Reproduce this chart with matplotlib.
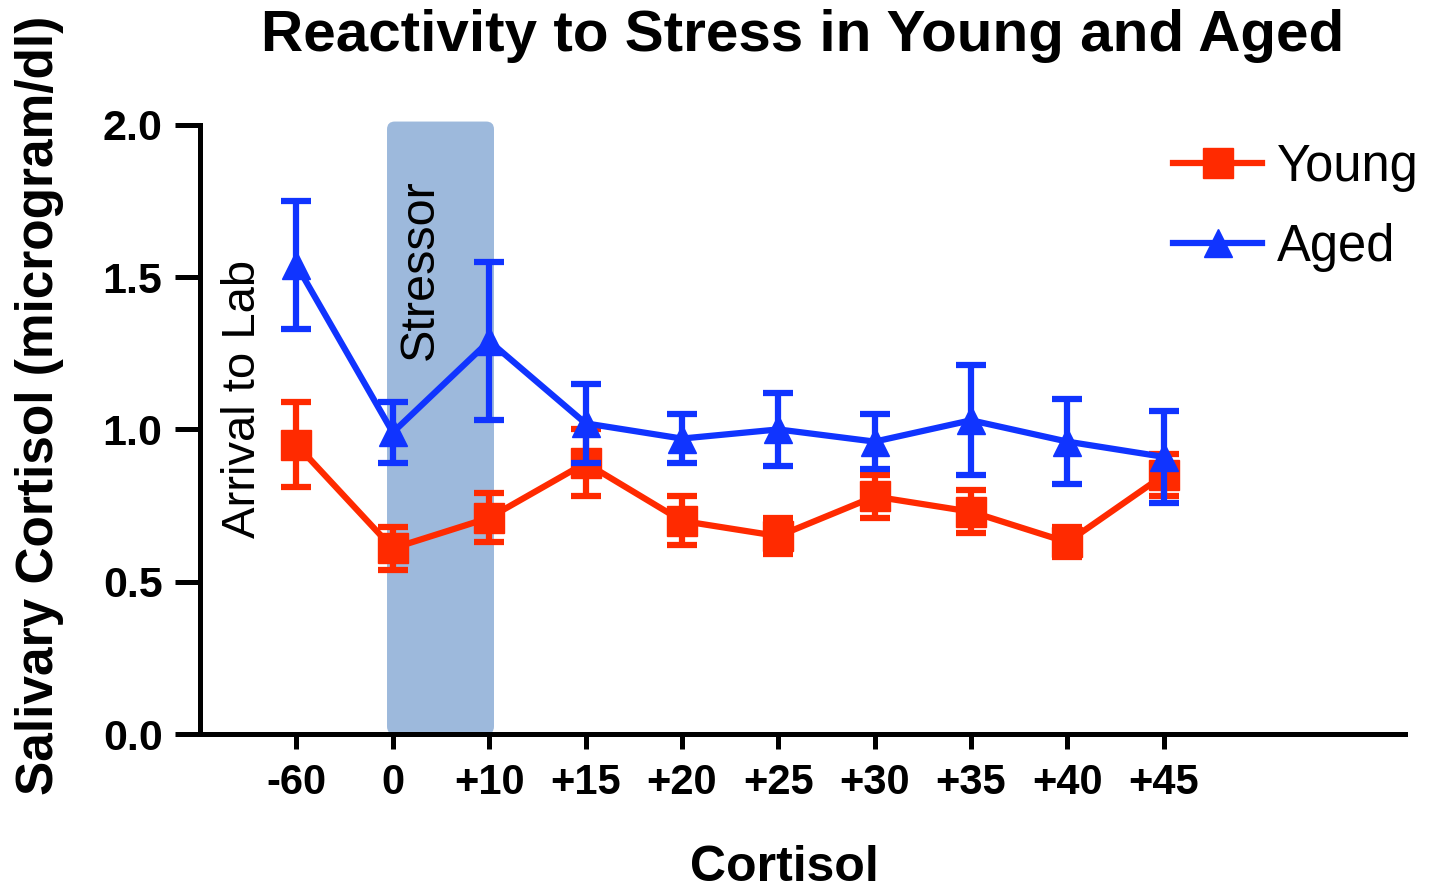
import numpy as np
import matplotlib.pyplot as plt
from matplotlib.patches import FancyBboxPatch
from matplotlib.lines import Line2D

plt.rcParams['font.family'] = ['Liberation Sans', 'DejaVu Sans']

# Data
time_labels = ['-60', '0', '+10', '+15', '+20', '+25', '+30', '+35', '+40', '+45']
young_mean = [0.95, 0.61, 0.71, 0.89, 0.70, 0.65, 0.78, 0.73, 0.63, 0.85]
young_sem = [0.14, 0.07, 0.08, 0.11, 0.08, 0.06, 0.07, 0.07, 0.05, 0.07]
aged_mean = [1.54, 0.99, 1.29, 1.02, 0.97, 1.00, 0.96, 1.03, 0.96, 0.91]
aged_sem = [0.21, 0.10, 0.26, 0.13, 0.08, 0.12, 0.09, 0.18, 0.14, 0.15]

red = '#ff2a00'
blue = '#1034ff'


def main():
    fig = plt.figure(figsize=(14.29, 8.90), dpi=100)
    ax = fig.add_axes([0.140, 0.175, 0.843, 0.685])
    x = np.arange(len(time_labels))

    # stressor period shading
    box = FancyBboxPatch((0.94, 0.0), 1.11, 2.01,
                         boxstyle='round,pad=0,rounding_size=0.08',
                         mutation_aspect=0.317, facecolor='#9db9dc',
                         edgecolor='none', zorder=1, clip_on=False)
    ax.add_patch(box)

    ax.errorbar(x, young_mean, yerr=young_sem, color=red, lw=4.5,
                marker='s', ms=21, capsize=11, capthick=4.5,
                elinewidth=4.5, zorder=3)
    ax.errorbar(x, aged_mean, yerr=aged_sem, color=blue, lw=4.5,
                marker='^', ms=20, capsize=11, capthick=4.5,
                elinewidth=4.5, zorder=4)

    ax.text(-0.55, 1.10, 'Arrival to Lab', rotation=90, fontsize=34,
            ha='center', va='center')
    ax.text(1.285, 1.525, 'Stressor', rotation=90, fontsize=35,
            ha='center', va='center', zorder=2)

    ax.set_xlim(-1.0, 11.5)
    ax.set_ylim(0, 2.0)
    ax.set_xticks(x)
    ax.set_xticklabels(time_labels, fontsize=30, fontweight='bold')
    ax.set_yticks([0.0, 0.5, 1.0, 1.5, 2.0])
    ax.set_yticklabels(['0.0', '0.5', '1.0', '1.5', '2.0'],
                       fontsize=31, fontweight='bold')
    ax.tick_params(axis='y', length=18, width=3.6, pad=9)
    ax.tick_params(axis='x', length=11, width=3.6, pad=10)

    for side in ['top', 'right']:
        ax.spines[side].set_visible(False)
    for side in ['left', 'bottom']:
        ax.spines[side].set_linewidth(3.6)

    ax.set_title('Reactivity to Stress in Young and Aged', fontsize=42,
                 fontweight='bold', pad=53)
    ax.set_xlabel('Cortisol', fontsize=36, fontweight='bold')
    ax.xaxis.set_label_coords(0.485, -0.182)
    ax.set_ylabel('Salivary Cortisol (microgram/dl)', fontsize=37,
                  fontweight='bold')
    ax.yaxis.set_label_coords(-0.113, 0.54)

    handles = [
        Line2D([], [], color=red, lw=4.5, marker='s', ms=21),
        Line2D([], [], color=blue, lw=4.5, marker='^', ms=20),
    ]
    ax.legend(handles, ['Young', 'Aged'], loc='upper left',
              bbox_to_anchor=(0.807, 0.862), bbox_transform=fig.transFigure,
              frameon=False, fontsize=36.5, handlelength=1.75,
              handletextpad=0.3, labelspacing=0.6, borderaxespad=0)

    fig.savefig('out.png', dpi=100)


if __name__ == '__main__':
    main()
